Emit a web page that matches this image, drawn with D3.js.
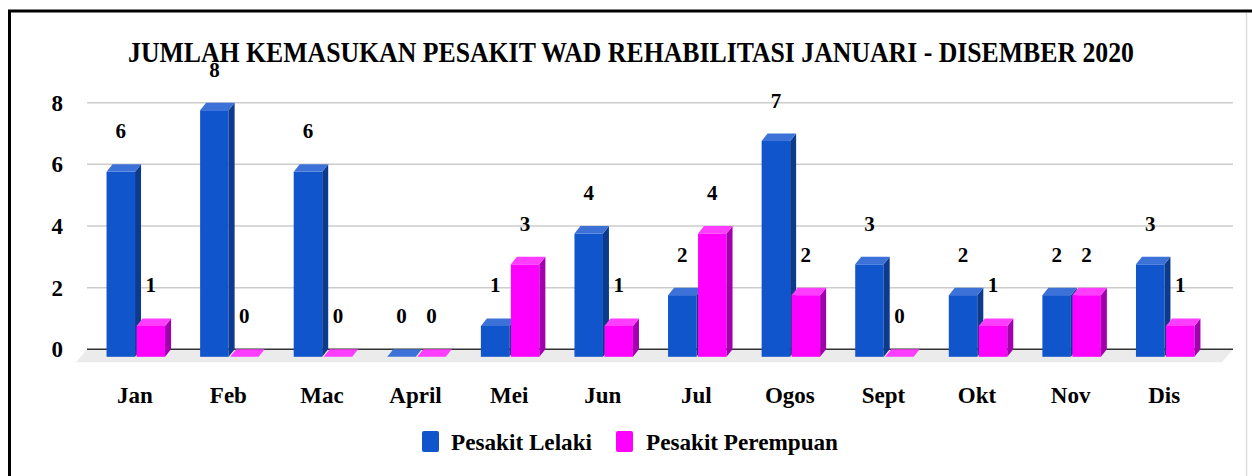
<!DOCTYPE html>
<html><head><meta charset="utf-8">
<script src="https://cdn.jsdelivr.net/npm/d3@7"></script>
</head><body style="margin:0">
<svg id="c" width="1252" height="476" font-family="Liberation Serif" font-weight="bold"></svg>
<script>
const months=["Jan","Feb","Mac","April","Mei","Jun","Jul","Ogos","Sept","Okt","Nov","Dis"];
const lelaki=[6,8,6,0,1,4,2,7,3,2,2,3];
const perempuan=[1,0,0,0,3,1,4,2,0,1,2,1];
const seriesNames=["Pesakit Lelaki","Pesakit Perempuan"];
const yTicks=[0,2,4,6,8];
const title="JUMLAH KEMASUKAN PESAKIT WAD REHABILITASI JANUARI - DISEMBER 2020";

const colors={
  "Pesakit Lelaki":{front:"#1155cc",side:"#0c3b8e",top:"#3c72d8"},
  "Pesakit Perempuan":{front:"#ff00ff",side:"#a300ad",top:"#ff3dff"}
};
const seriesValues={"Pesakit Lelaki":lelaki,"Pesakit Perempuan":perempuan};

const svg=d3.select("#c");
const DX=6, DY=7.5;

const y=d3.scaleLinear().domain([0,8]).range([349.3,102.7]);
const x0=d3.scaleBand().domain(months).range([89,1212]).paddingInner(0.375).paddingOuter(0.1875);
const x1=d3.scaleBand().domain(seriesNames).range([0,x0.bandwidth()]).paddingInner(0.05);

function txt(sel){
  return sel.attr("font-family","Liberation Serif").attr("font-weight","bold")
    .style("font-family","'Liberation Serif', Tinos, 'Times New Roman', serif").style("font-weight","bold");
}

// frame
svg.append("path").attr("d","M9.5,476V11H1252").attr("fill","none").attr("stroke","#000").attr("stroke-width",3);
svg.append("line").attr("x1",1246.5).attr("x2",1246.5).attr("y1",13).attr("y2",476).attr("stroke","#dcdcdc").attr("stroke-width",1.5);

// gridlines
const gx0=87, gx1=1233;
svg.append("g").selectAll("line").data(yTicks.filter(t=>t>0)).join("line")
  .attr("x1",gx0).attr("x2",gx1).attr("y1",d=>y(d)).attr("y2",d=>y(d))
  .attr("stroke","#cccccc").attr("stroke-width",1.5);

// floor
const y0=y(0);
svg.append("path")
  .attr("d",`M${gx0},${y0}L${gx1},${y0}L${gx1-11},${y0+13}L${gx0-11},${y0+13}Z`)
  .attr("fill","#ebebeb");
svg.append("line").attr("x1",gx0).attr("x2",gx1).attr("y1",y0).attr("y2",y0)
  .attr("stroke","#333").attr("stroke-width",1.5);

// y axis labels
txt(svg.append("g").selectAll("text").data(yTicks).join("text"))
  .attr("x",63).attr("y",d=>y(d)+8).attr("text-anchor","end")
  .attr("font-size",23).text(d=>d);

// bars
const bars=[];
months.forEach((m,i)=>{
  seriesNames.forEach(s=>{
    bars.push({m,s,v:seriesValues[s][i]});
  });
});
const bw=x1.bandwidth();
const g=svg.append("g");
bars.forEach(b=>{
  const c=colors[b.s];
  const xf=x0(b.m)+x1(b.s);
  const top=y(b.v)+DY, bot=y(0)+DY;
  if(b.v>0){
    g.append("rect").attr("x",xf).attr("y",top).attr("width",bw).attr("height",bot-top).attr("fill",c.front);
    g.append("path").attr("d",`M${xf+bw},${top}L${xf+bw+DX},${top-DY}L${xf+bw+DX},${bot-DY}L${xf+bw},${bot}Z`).attr("fill",c.side);
  }
  g.append("path").attr("d",`M${xf},${top}L${xf+DX},${top-DY}L${xf+bw+DX},${top-DY}L${xf+bw},${top}Z`).attr("fill",c.top);
});

// value labels
txt(svg.append("g").selectAll("text").data(bars).join("text"))
  .attr("x",d=>x0(d.m)+x1(d.s)+bw/2)
  .attr("y",d=>y(d.v)-26)
  .attr("text-anchor","middle").attr("font-size",21)
  .text(d=>d.v);

// category labels
txt(svg.append("g").selectAll("text").data(months).join("text"))
  .attr("x",d=>x0(d)+x0.bandwidth()/2-1)
  .attr("y",403).attr("text-anchor","middle").attr("font-size",23)
  .text(d=>d);

// title
txt(svg.append("text")).attr("x",128).attr("y",62).attr("font-size",29)
  .attr("textLength",1006).attr("lengthAdjust","spacingAndGlyphs").text(title);

// legend
const legX=[422,616], legW=[141,192], legTX=[451,646];
seriesNames.forEach((s,i)=>{
  svg.append("rect").attr("x",legX[i]).attr("y",431).attr("width",17).attr("height",21).attr("rx",2)
    .attr("fill",colors[s].front);
  txt(svg.append("text")).attr("x",legTX[i]).attr("y",450).attr("font-size",24)
    .attr("textLength",legW[i]).attr("lengthAdjust","spacingAndGlyphs").text(s);
});
</script>
</body></html>
